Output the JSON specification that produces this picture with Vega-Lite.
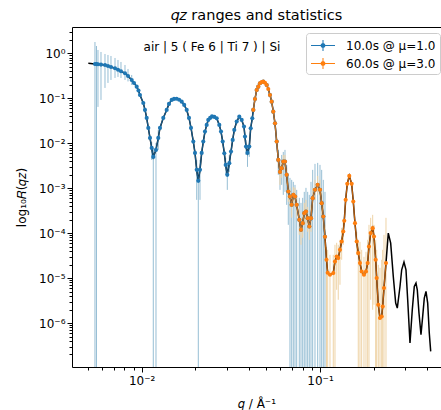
{
"$schema": "https://vega.github.io/schema/vega-lite/v6.json",
"width": 369, "height": 340,
"autosize": "none",
"padding": {"left": 72, "top": 27, "right": 0, "bottom": 43},
"background": "white",
"config": {
 "font": "DejaVu Sans",
 "view": {"stroke": null},
 "axis": {"labelFont": "DejaVu Sans", "labelFontSize": 12, "labelColor": "black", "tickColor": "black", "tickWidth": 1, "domainColor": "black", "domainWidth": 1, "grid": false, "titleFont": "DejaVu Sans", "titleFontSize": 12, "titleFontWeight": "normal", "titleColor": "black", "labelFlush": false, "labelOverlap": false}
},
"title": {"text": "𝑞𝑧 ranges and statistics", "fontSize": 14.5, "fontWeight": "normal", "font": "DejaVu Sans", "color": "black", "anchor": "middle", "baseline": "alphabetic", "offset": 7, "dy": 14},
"datasets": {
 "note": [{"q": 0.02479, "R": 1.38, "label": "air | 5 ( Fe 6 | Ti 7 ) | Si"}],
 "fit": [
{"q":0.00502,"R":0.6},{"q":0.00547,"R":0.578},{"q":0.005687,"R":0.5694},{"q":0.005912,"R":0.561},{"q":0.006226,"R":0.5495},{"q":0.006471,"R":0.5222},{"q":0.006726,"R":0.4961},{"q":0.007085,"R":0.4642},{"q":0.007364,"R":0.43},{"q":0.007654,"R":0.3981},{"q":0.00806,"R":0.3594},{"q":0.008381,"R":0.313},{"q":0.00879,"R":0.2551},{"q":0.009054,"R":0.2188},{"q":0.009375,"R":0.1811},{"q":0.009594,"R":0.1491},{"q":0.00978,"R":0.1184},{"q":0.01021,"R":0.07862},{"q":0.010435,"R":0.05495},{"q":0.010667,"R":0.03649},{"q":0.01089,"R":0.02188},{"q":0.011132,"R":0.01312},{"q":0.011379,"R":0.007862},{"q":0.011617,"R":0.004961},{"q":0.012028,"R":0.007097},{"q":0.01239,"R":0.01312},{"q":0.012666,"R":0.02188},{"q":0.013217,"R":0.03649},{"q":0.01381,"R":0.05495},{"q":0.014224,"R":0.0747},{"q":0.014738,"R":0.0917},{"q":0.015182,"R":0.0965},{"q":0.015716,"R":0.0975},{"q":0.016226,"R":0.0926},{"q":0.016765,"R":0.08404},{"q":0.017314,"R":0.071},{"q":0.017885,"R":0.05495},{"q":0.018423,"R":0.03649},{"q":0.018905,"R":0.02188},{"q":0.019475,"R":0.010854},{"q":0.019906,"R":0.006087},{"q":0.02035,"R":0.002551},{"q":0.020775,"R":0.001453},{"q":0.021232,"R":0.002551},{"q":0.021703,"R":0.006087},{"q":0.022157,"R":0.010854},{"q":0.022646,"R":0.01811},{"q":0.02315,"R":0.02551},{"q":0.023631,"R":0.03294},{"q":0.024215,"R":0.03649},{"q":0.024786,"R":0.0394},{"q":0.025543,"R":0.0384},{"q":0.026345,"R":0.03594},{"q":0.027245,"R":0.02551},{"q":0.027848,"R":0.01811},{"q":0.028466,"R":0.010854},{"q":0.02906,"R":0.005995},{"q":0.02959,"R":0.003294},{"q":0.03021,"R":0.001975},{"q":0.031,"R":0.003594},{"q":0.031687,"R":0.006505},{"q":0.032391,"R":0.01184},{"q":0.033063,"R":0.01975},{"q":0.034104,"R":0.0302},{"q":0.03527,"R":0.039},{"q":0.036379,"R":0.03294},{"q":0.037477,"R":0.02338},{"q":0.037962,"R":0.01402},{"q":0.038459,"R":0.008404},{"q":0.03921,"R":0.006087},{"q":0.040133,"R":0.008404},{"q":0.040862,"R":0.02154},{"q":0.041718,"R":0.03594},{"q":0.042259,"R":0.05495},{"q":0.043196,"R":0.09647},{"q":0.044157,"R":0.1529},{"q":0.045078,"R":0.1811},{"q":0.04608,"R":0.2154},{"q":0.047098,"R":0.2302},{"q":0.048084,"R":0.2338},{"q":0.049149,"R":0.2211},{"q":0.050243,"R":0.1975},{"q":0.051286,"R":0.1609},{"q":0.052433,"R":0.1184},{"q":0.053596,"R":0.08404},{"q":0.054715,"R":0.05036},{"q":0.05593,"R":0.02783},{"q":0.057171,"R":0.010854},{"q":0.058364,"R":0.004255},{"q":0.05966,"R":0.002302},{"q":0.060981,"R":0.002783},{"q":0.062257,"R":0.0039},{"q":0.063636,"R":0.0039},{"q":0.065044,"R":0.001975},{"q":0.066407,"R":0.0008404},{"q":0.067877,"R":0.0006505},{"q":0.069392,"R":0.0004255},{"q":0.070846,"R":0.0007097},{"q":0.072416,"R":0.0006505},{"q":0.074017,"R":0.0004255},{"q":0.076548,"R":0.0001975},{"q":0.078248,"R":0.0001184},{"q":0.079983,"R":0.0001668},{"q":0.081641,"R":0.0002783},{"q":0.083454,"R":0.000302},{"q":0.08531,"R":0.0002154},{"q":0.087096,"R":0.0001402},{"q":0.089029,"R":0.0002154},{"q":0.091004,"R":0.0005995},{"q":0.093749,"R":0.0009166},{"q":0.097077,"R":0.001184},{"q":0.1,"R":0.0009166},{"q":0.10222,"R":0.0004642},{"q":0.10435,"R":0.0002338},{"q":0.10666,"R":0.00008276},{"q":0.10875,"R":0.00002551},{"q":0.11045,"R":0.00001312},{"q":0.11377,"R":0.00001184},{"q":0.11872,"R":0.00001291},{"q":0.12135,"R":0.00002338},{"q":0.12404,"R":0.0000302},{"q":0.12662,"R":0.00002783},{"q":0.12944,"R":0.00004255},{"q":0.13231,"R":0.00006505},{"q":0.13508,"R":0.00010854},{"q":0.13683,"R":0.0001876},{"q":0.13932,"R":0.0005495},{"q":0.14224,"R":0.001246},{"q":0.14597,"R":0.001876},{"q":0.15057,"R":0.001246},{"q":0.15372,"R":0.0005036},{"q":0.15713,"R":0.0001668},{"q":0.16062,"R":0.00006505},{"q":0.16397,"R":0.00003594},{"q":0.16761,"R":0.00002154},{"q":0.17133,"R":0.00001402},{"q":0.17649,"R":0.00001184},{"q":0.18113,"R":0.00001402},{"q":0.18514,"R":0.00002154},{"q":0.18828,"R":0.00005036},{"q":0.19245,"R":0.0001},{"q":0.19748,"R":0.0001291},{"q":0.20082,"R":0.00008404},{"q":0.20528,"R":0.00002551},{"q":0.20797,"R":0.00001},{"q":0.21232,"R":0.000002551},{"q":0.21703,"R":0.000001291},{"q":0.22185,"R":0.000001402},{"q":0.22473,"R":0.000002338},{"q":0.22853,"R":0.000005995},{"q":0.23451,"R":0.00002154},{"q":0.24158,"R":0.0001},{"q":0.24918,"R":0.00005995},{"q":0.2577,"R":0.000010854},{"q":0.26581,"R":0.000002783},{"q":0.27136,"R":0.000002154},{"q":0.28099,"R":0.000006505},{"q":0.28722,"R":0.00001529},{"q":0.29588,"R":0.00002268},{"q":0.30363,"R":0.00001529},{"q":0.31036,"R":0.000003294},{"q":0.31972,"R":3.594e-7},{"q":0.32935,"R":0.000001975},{"q":0.33796,"R":0.000006505},{"q":0.34545,"R":0.000007745},{"q":0.3513,"R":0.000005495},{"q":0.3591,"R":0.000001668},{"q":0.3685,"R":5.495e-7},{"q":0.3767,"R":0.000001402},{"q":0.38459,"R":0.000003594},{"q":0.3931,"R":0.000005036},{"q":0.40182,"R":0.000002783},{"q":0.4102,"R":5.995e-7},{"q":0.41772,"R":2.338e-7}
 ],
 "pts": [
{"run":"10.0s @ μ=1.0","q":0.00547,"R":0.578,"lo":1e-9,"hi":1.782},
{"run":"10.0s @ μ=1.0","q":0.005578,"R":0.5754,"lo":1e-9,"hi":1.453},
{"run":"10.0s @ μ=1.0","q":0.005687,"R":0.5694,"lo":0.0641,"hi":1.184},
{"run":"10.0s @ μ=1.0","q":0.005912,"R":0.561,"lo":0.0917,"hi":1.069},
{"run":"10.0s @ μ=1.0","q":0.006226,"R":0.5495,"lo":0.1694,"hi":0.965},
{"run":"10.0s @ μ=1.0","q":0.006471,"R":0.5222,"lo":0.2188,"hi":0.917},
{"run":"10.0s @ μ=1.0","q":0.006726,"R":0.4961,"lo":0.2551,"hi":0.871},
{"run":"10.0s @ μ=1.0","q":0.007085,"R":0.4642,"lo":0.2826,"hi":0.786},
{"run":"10.0s @ μ=1.0","q":0.007364,"R":0.43,"lo":0.2974,"hi":0.71},
{"run":"10.0s @ μ=1.0","q":0.007654,"R":0.3981,"lo":0.2826,"hi":0.641},
{"run":"10.0s @ μ=1.0","q":0.00806,"R":0.3594,"lo":0.2551,"hi":0.5495},
{"run":"10.0s @ μ=1.0","q":0.008381,"R":0.313,"lo":0.2362,"hi":0.4477},
{"run":"10.0s @ μ=1.0","q":0.00879,"R":0.2551,"lo":0.1975,"hi":0.3294},
{"run":"10.0s @ μ=1.0","q":0.009054,"R":0.2188},
{"run":"10.0s @ μ=1.0","q":0.009375,"R":0.1811},
{"run":"10.0s @ μ=1.0","q":0.009594,"R":0.1491},
{"run":"10.0s @ μ=1.0","q":0.00978,"R":0.1184},
{"run":"10.0s @ μ=1.0","q":0.01021,"R":0.07862},
{"run":"10.0s @ μ=1.0","q":0.010435,"R":0.05495},
{"run":"10.0s @ μ=1.0","q":0.010667,"R":0.03649},
{"run":"10.0s @ μ=1.0","q":0.01089,"R":0.02188},
{"run":"10.0s @ μ=1.0","q":0.011132,"R":0.01312},
{"run":"10.0s @ μ=1.0","q":0.011379,"R":0.007862,"lo":0.004255,"hi":0.01069},
{"run":"10.0s @ μ=1.0","q":0.011617,"R":0.004961,"lo":1e-9,"hi":0.00786},
{"run":"10.0s @ μ=1.0","q":0.012028,"R":0.007097,"lo":1e-9,"hi":0.01016},
{"run":"10.0s @ μ=1.0","q":0.01239,"R":0.01312,"lo":0.0071,"hi":0.01975},
{"run":"10.0s @ μ=1.0","q":0.012666,"R":0.02188},
{"run":"10.0s @ μ=1.0","q":0.013217,"R":0.03649},
{"run":"10.0s @ μ=1.0","q":0.01381,"R":0.05495},
{"run":"10.0s @ μ=1.0","q":0.014224,"R":0.0747},
{"run":"10.0s @ μ=1.0","q":0.014738,"R":0.0917},
{"run":"10.0s @ μ=1.0","q":0.015182,"R":0.0965},
{"run":"10.0s @ μ=1.0","q":0.015716,"R":0.0975},
{"run":"10.0s @ μ=1.0","q":0.016226,"R":0.0926},
{"run":"10.0s @ μ=1.0","q":0.016765,"R":0.08404},
{"run":"10.0s @ μ=1.0","q":0.017314,"R":0.071},
{"run":"10.0s @ μ=1.0","q":0.017885,"R":0.05495},
{"run":"10.0s @ μ=1.0","q":0.018423,"R":0.03649},
{"run":"10.0s @ μ=1.0","q":0.018905,"R":0.02188},
{"run":"10.0s @ μ=1.0","q":0.019475,"R":0.010854},
{"run":"10.0s @ μ=1.0","q":0.019906,"R":0.006087},
{"run":"10.0s @ μ=1.0","q":0.02035,"R":0.002551,"lo":0.0005495,"hi":0.004255},
{"run":"10.0s @ μ=1.0","q":0.020775,"R":0.001453,"lo":1e-9,"hi":0.002826},
{"run":"10.0s @ μ=1.0","q":0.021232,"R":0.002551,"lo":0.0005495,"hi":0.004255},
{"run":"10.0s @ μ=1.0","q":0.021703,"R":0.006087},
{"run":"10.0s @ μ=1.0","q":0.022157,"R":0.010854},
{"run":"10.0s @ μ=1.0","q":0.022646,"R":0.01811},
{"run":"10.0s @ μ=1.0","q":0.02315,"R":0.02551},
{"run":"10.0s @ μ=1.0","q":0.023631,"R":0.03294},
{"run":"10.0s @ μ=1.0","q":0.024215,"R":0.03649},
{"run":"10.0s @ μ=1.0","q":0.024786,"R":0.0394},
{"run":"10.0s @ μ=1.0","q":0.025543,"R":0.0384},
{"run":"10.0s @ μ=1.0","q":0.026345,"R":0.03594},
{"run":"10.0s @ μ=1.0","q":0.027245,"R":0.02551},
{"run":"10.0s @ μ=1.0","q":0.027848,"R":0.01811},
{"run":"10.0s @ μ=1.0","q":0.028466,"R":0.010854},
{"run":"10.0s @ μ=1.0","q":0.02906,"R":0.005995},
{"run":"10.0s @ μ=1.0","q":0.02959,"R":0.003294,"lo":0.001975,"hi":0.004713},
{"run":"10.0s @ μ=1.0","q":0.03021,"R":0.001975,"lo":0.0009166,"hi":0.003294},
{"run":"10.0s @ μ=1.0","q":0.031,"R":0.003594,"lo":0.002302,"hi":0.005495},
{"run":"10.0s @ μ=1.0","q":0.031687,"R":0.006505},
{"run":"10.0s @ μ=1.0","q":0.032391,"R":0.01184},
{"run":"10.0s @ μ=1.0","q":0.033063,"R":0.01975},
{"run":"10.0s @ μ=1.0","q":0.034104,"R":0.0302},
{"run":"10.0s @ μ=1.0","q":0.03527,"R":0.039},
{"run":"10.0s @ μ=1.0","q":0.036379,"R":0.03294},
{"run":"10.0s @ μ=1.0","q":0.037477,"R":0.02338},
{"run":"10.0s @ μ=1.0","q":0.037962,"R":0.01402},
{"run":"10.0s @ μ=1.0","q":0.038459,"R":0.008404,"lo":0.005495,"hi":0.01184},
{"run":"10.0s @ μ=1.0","q":0.03921,"R":0.006087,"lo":0.002974,"hi":0.009166},
{"run":"10.0s @ μ=1.0","q":0.040133,"R":0.008404,"lo":0.004961,"hi":0.01184},
{"run":"10.0s @ μ=1.0","q":0.040862,"R":0.02154},
{"run":"10.0s @ μ=1.0","q":0.041718,"R":0.03594},
{"run":"10.0s @ μ=1.0","q":0.042259,"R":0.05495},
{"run":"10.0s @ μ=1.0","q":0.043196,"R":0.09647},
{"run":"10.0s @ μ=1.0","q":0.044157,"R":0.1529},
{"run":"10.0s @ μ=1.0","q":0.045078,"R":0.1811},
{"run":"10.0s @ μ=1.0","q":0.04608,"R":0.2154},
{"run":"10.0s @ μ=1.0","q":0.048084,"R":0.2338},
{"run":"10.0s @ μ=1.0","q":0.050243,"R":0.1975},
{"run":"10.0s @ μ=1.0","q":0.052433,"R":0.1184},
{"run":"10.0s @ μ=1.0","q":0.053596,"R":0.08404},
{"run":"10.0s @ μ=1.0","q":0.054715,"R":0.05036},
{"run":"10.0s @ μ=1.0","q":0.05593,"R":0.02783},
{"run":"10.0s @ μ=1.0","q":0.057171,"R":0.010854},
{"run":"10.0s @ μ=1.0","q":0.058364,"R":0.004255,"lo":0.001975,"hi":0.0071},
{"run":"10.0s @ μ=1.0","q":0.05966,"R":0.002302,"lo":0.0009166,"hi":0.004255},
{"run":"10.0s @ μ=1.0","q":0.060981,"R":0.002783,"lo":0.001184,"hi":0.005495},
{"run":"10.0s @ μ=1.0","q":0.062257,"R":0.0039,"lo":0.00071,"hi":0.0064},
{"run":"10.0s @ μ=1.0","q":0.063636,"R":0.0039,"lo":0.000828,"hi":0.0071},
{"run":"10.0s @ μ=1.0","q":0.065044,"R":0.001975,"lo":0.0004255,"hi":0.003294},
{"run":"10.0s @ μ=1.0","q":0.066407,"R":0.0008404,"lo":0.0001529,"hi":0.001975},
{"run":"10.0s @ μ=1.0","q":0.067877,"R":0.0006505,"lo":1e-9,"hi":0.001694},
{"run":"10.0s @ μ=1.0","q":0.069392,"R":0.0004255,"lo":1e-9,"hi":0.001529},
{"run":"10.0s @ μ=1.0","q":0.070846,"R":0.0007097,"lo":1e-9,"hi":0.00138},
{"run":"10.0s @ μ=1.0","q":0.072416,"R":0.0006505,"lo":1e-9,"hi":0.001184},
{"run":"10.0s @ μ=1.0","q":0.074017,"R":0.0004255,"lo":1e-9,"hi":0.0009166},
{"run":"10.0s @ μ=1.0","q":0.076548,"R":0.0001975,"lo":1e-9,"hi":0.000609},
{"run":"10.0s @ μ=1.0","q":0.078248,"R":0.0001184,"lo":1e-9,"hi":0.000471},
{"run":"10.0s @ μ=1.0","q":0.079983,"R":0.0001668,"lo":1e-9,"hi":0.000609},
{"run":"10.0s @ μ=1.0","q":0.081641,"R":0.0002783,"lo":1e-9,"hi":0.000828},
{"run":"10.0s @ μ=1.0","q":0.083454,"R":0.000302,"lo":1e-9,"hi":0.001016},
{"run":"10.0s @ μ=1.0","q":0.08531,"R":0.0002154,"lo":1e-9,"hi":0.000828},
{"run":"10.0s @ μ=1.0","q":0.087096,"R":0.0001402,"lo":1e-9,"hi":0.00071},
{"run":"10.0s @ μ=1.0","q":0.089029,"R":0.0002154,"lo":1e-9,"hi":0.00138},
{"run":"10.0s @ μ=1.0","q":0.091004,"R":0.0005995,"lo":1e-9,"hi":0.002551},
{"run":"10.0s @ μ=1.0","q":0.093749,"R":0.0009166,"lo":1e-9,"hi":0.003467},
{"run":"10.0s @ μ=1.0","q":0.097077,"R":0.001184,"lo":1e-9,"hi":0.00365},
{"run":"10.0s @ μ=1.0","q":0.1,"R":0.0009166,"lo":1e-9,"hi":0.003294},
{"run":"10.0s @ μ=1.0","q":0.10222,"R":0.0004642,"lo":1e-9,"hi":0.002551},
{"run":"10.0s @ μ=1.0","q":0.10435,"R":0.0002338,"lo":1e-9,"hi":0.001529},
{"run":"10.0s @ μ=1.0","q":0.10666,"R":0.00008276,"lo":1e-9,"hi":0.000828},
{"run":"60.0s @ μ=3.0","q":0.042259,"R":0.05495},
{"run":"60.0s @ μ=3.0","q":0.043196,"R":0.09647},
{"run":"60.0s @ μ=3.0","q":0.044157,"R":0.1529},
{"run":"60.0s @ μ=3.0","q":0.045078,"R":0.1811},
{"run":"60.0s @ μ=3.0","q":0.04608,"R":0.2154},
{"run":"60.0s @ μ=3.0","q":0.047098,"R":0.2302},
{"run":"60.0s @ μ=3.0","q":0.048084,"R":0.2338},
{"run":"60.0s @ μ=3.0","q":0.049149,"R":0.2211},
{"run":"60.0s @ μ=3.0","q":0.050243,"R":0.1975},
{"run":"60.0s @ μ=3.0","q":0.051286,"R":0.1609},
{"run":"60.0s @ μ=3.0","q":0.052433,"R":0.1184},
{"run":"60.0s @ μ=3.0","q":0.053596,"R":0.08404},
{"run":"60.0s @ μ=3.0","q":0.054715,"R":0.05036},
{"run":"60.0s @ μ=3.0","q":0.05593,"R":0.02783},
{"run":"60.0s @ μ=3.0","q":0.057171,"R":0.010854},
{"run":"60.0s @ μ=3.0","q":0.058364,"R":0.004255,"lo":0.002826,"hi":0.006087},
{"run":"60.0s @ μ=3.0","q":0.05966,"R":0.002302,"lo":0.001184,"hi":0.00365},
{"run":"60.0s @ μ=3.0","q":0.060981,"R":0.002783,"lo":0.001694,"hi":0.004255},
{"run":"60.0s @ μ=3.0","q":0.062257,"R":0.0039,"lo":0.002551,"hi":0.005495},
{"run":"60.0s @ μ=3.0","q":0.063636,"R":0.0039,"lo":0.002551,"hi":0.005495},
{"run":"60.0s @ μ=3.0","q":0.065044,"R":0.001975,"lo":0.001184,"hi":0.002826},
{"run":"60.0s @ μ=3.0","q":0.066407,"R":0.0008404,"lo":0.000496,"hi":0.001312},
{"run":"60.0s @ μ=3.0","q":0.067877,"R":0.0006505,"lo":0.000384,"hi":0.001016},
{"run":"60.0s @ μ=3.0","q":0.069392,"R":0.0004255,"lo":0.0002188,"hi":0.00071},
{"run":"60.0s @ μ=3.0","q":0.070846,"R":0.0007097,"lo":0.0004255,"hi":0.001069},
{"run":"60.0s @ μ=3.0","q":0.072416,"R":0.0006505,"lo":0.000365,"hi":0.001016},
{"run":"60.0s @ μ=3.0","q":0.074017,"R":0.0004255,"lo":0.0002188,"hi":0.00071},
{"run":"60.0s @ μ=3.0","q":0.076548,"R":0.0001975,"lo":0.0000917,"hi":0.000365},
{"run":"60.0s @ μ=3.0","q":0.078248,"R":0.0001184,"lo":0.000055,"hi":0.0002188},
{"run":"60.0s @ μ=3.0","q":0.079983,"R":0.0001668,"lo":0.0000786,"hi":0.000297},
{"run":"60.0s @ μ=3.0","q":0.081641,"R":0.0002783,"lo":0.0001453,"hi":0.000471},
{"run":"60.0s @ μ=3.0","q":0.083454,"R":0.000302,"lo":0.000161,"hi":0.00055},
{"run":"60.0s @ μ=3.0","q":0.08531,"R":0.0002154,"lo":0.000107,"hi":0.000384},
{"run":"60.0s @ μ=3.0","q":0.087096,"R":0.0001402,"lo":0.000071,"hi":0.000255},
{"run":"60.0s @ μ=3.0","q":0.089029,"R":0.0002154,"lo":0.000107,"hi":0.0004255},
{"run":"60.0s @ μ=3.0","q":0.091004,"R":0.0005995,"lo":0.000329,"hi":0.001016},
{"run":"60.0s @ μ=3.0","q":0.093749,"R":0.0009166,"lo":0.00055,"hi":0.001529},
{"run":"60.0s @ μ=3.0","q":0.097077,"R":0.001184,"lo":0.00071,"hi":0.001876},
{"run":"60.0s @ μ=3.0","q":0.1,"R":0.0009166,"lo":0.00055,"hi":0.001529},
{"run":"60.0s @ μ=3.0","q":0.10222,"R":0.0004642,"lo":0.000255,"hi":0.000828},
{"run":"60.0s @ μ=3.0","q":0.10435,"R":0.0002338,"lo":0.0001184,"hi":0.0004255},
{"run":"60.0s @ μ=3.0","q":0.10666,"R":0.00008276,"lo":0.00004255,"hi":0.0001529},
{"run":"60.0s @ μ=3.0","q":0.10875,"R":0.00002551,"lo":1e-9,"hi":0.0000496},
{"run":"60.0s @ μ=3.0","q":0.11045,"R":0.00001312,"lo":1e-9,"hi":0.00004255},
{"run":"60.0s @ μ=3.0","q":0.11377,"R":0.00001184,"lo":1e-9,"hi":0.00003294},
{"run":"60.0s @ μ=3.0","q":0.11872,"R":0.00001291,"lo":1e-9,"hi":0.00003294},
{"run":"60.0s @ μ=3.0","q":0.12135,"R":0.00002338,"lo":1e-9,"hi":0.000055},
{"run":"60.0s @ μ=3.0","q":0.12404,"R":0.0000302,"lo":0.000005495,"hi":0.0000609},
{"run":"60.0s @ μ=3.0","q":0.12662,"R":0.00002783,"lo":0.000003294,"hi":0.000055},
{"run":"60.0s @ μ=3.0","q":0.12944,"R":0.00004255,"lo":0.0000071,"hi":0.000071},
{"run":"60.0s @ μ=3.0","q":0.13231,"R":0.00006505,"lo":0.00002551,"hi":0.0001312},
{"run":"60.0s @ μ=3.0","q":0.13508,"R":0.00010854,"lo":0.000055,"hi":0.0001975},
{"run":"60.0s @ μ=3.0","q":0.13683,"R":0.0001876},
{"run":"60.0s @ μ=3.0","q":0.13932,"R":0.0005495},
{"run":"60.0s @ μ=3.0","q":0.14224,"R":0.001246},
{"run":"60.0s @ μ=3.0","q":0.14597,"R":0.001876},
{"run":"60.0s @ μ=3.0","q":0.15057,"R":0.001246},
{"run":"60.0s @ μ=3.0","q":0.15372,"R":0.0005036},
{"run":"60.0s @ μ=3.0","q":0.15713,"R":0.0001668},
{"run":"60.0s @ μ=3.0","q":0.16062,"R":0.00006505,"lo":0.0000329,"hi":0.000107},
{"run":"60.0s @ μ=3.0","q":0.16397,"R":0.00003594,"lo":1e-9,"hi":0.000071},
{"run":"60.0s @ μ=3.0","q":0.16761,"R":0.00002154,"lo":1e-9,"hi":0.000064},
{"run":"60.0s @ μ=3.0","q":0.17133,"R":0.00001402,"lo":1e-9,"hi":0.00004255},
{"run":"60.0s @ μ=3.0","q":0.17649,"R":0.00001184,"lo":1e-9,"hi":0.00002974},
{"run":"60.0s @ μ=3.0","q":0.18113,"R":0.00001402,"lo":1e-9,"hi":0.0000384},
{"run":"60.0s @ μ=3.0","q":0.18514,"R":0.00002154,"lo":1e-9,"hi":0.000071},
{"run":"60.0s @ μ=3.0","q":0.18828,"R":0.00005036,"lo":1e-9,"hi":0.0001529},
{"run":"60.0s @ μ=3.0","q":0.19245,"R":0.0001,"lo":0.000003294,"hi":0.0002188},
{"run":"60.0s @ μ=3.0","q":0.19748,"R":0.0001291,"lo":0.000001975,"hi":0.000255},
{"run":"60.0s @ μ=3.0","q":0.20082,"R":0.00008404,"lo":0.000002551,"hi":0.0001529},
{"run":"60.0s @ μ=3.0","q":0.20528,"R":0.00002551,"lo":1e-9,"hi":0.000071},
{"run":"60.0s @ μ=3.0","q":0.20797,"R":0.00001,"lo":1e-9,"hi":0.00004255},
{"run":"60.0s @ μ=3.0","q":0.21232,"R":0.000002551,"lo":1e-9,"hi":0.00001975},
{"run":"60.0s @ μ=3.0","q":0.21703,"R":0.000001291,"lo":1e-9,"hi":0.00001694},
{"run":"60.0s @ μ=3.0","q":0.22185,"R":0.000001402,"lo":1e-9,"hi":0.00002551},
{"run":"60.0s @ μ=3.0","q":0.22473,"R":0.000002338,"lo":1e-9,"hi":0.00004255},
{"run":"60.0s @ μ=3.0","q":0.22853,"R":0.000005995,"lo":1e-9,"hi":0.0000917},
{"run":"60.0s @ μ=3.0","q":0.23451,"R":0.00002154,"lo":1e-9,"hi":0.0002188}
 ]
},
"layer": [
 {
  "data": {"name": "pts"},
  "transform": [{"filter": "isValid(datum.lo)"}],
  "mark": {"type": "rule", "clip": true, "strokeWidth": 1},
  "encoding": {
   "x": {"field": "q", "type": "quantitative", "scale": {"type": "log", "domain": [0.004066, 0.4772], "nice": false},
     "axis": {"orient": "bottom", "values": [0.01, 0.1], "tickSize": 5, "labelPadding": 3, "titlePadding": 12, "title": "𝑞 / Å⁻¹",
       "labelExpr": "'10' + (round(log(datum.value)/LN10) < 0 ? '⁻' : '') + ['⁰','¹','²','³','⁴','⁵','⁶','⁷','⁸','⁹'][abs(round(log(datum.value)/LN10))]"}},
   "y": {"field": "lo", "type": "quantitative", "scale": {"type": "log", "domain": [1.0525e-7, 3.842], "nice": false},
     "axis": {"orient": "left", "values": [1, 0.1, 0.01, 0.001, 0.0001, 0.00001, 0.000001], "tickSize": 5, "labelPadding": 2, "titlePadding": 10, "title": "log₁₀𝑅(𝑞𝑧)",
       "labelExpr": "'10' + (round(log(datum.value)/LN10) < 0 ? '⁻' : '') + ['⁰','¹','²','³','⁴','⁵','⁶','⁷','⁸','⁹'][abs(round(log(datum.value)/LN10))]"}},
   "y2": {"field": "hi"},
   "color": {"field": "run", "type": "nominal", "scale": {"domain": ["10.0s @ μ=1.0", "60.0s @ μ=3.0"], "range": ["#96bed4", "#eed3a6"]}, "legend": null}
  }
 },
 {
  "data": {"name": "fit"},
  "mark": {"type": "line", "color": "black", "strokeWidth": 1.5, "clip": true},
  "encoding": {
   "x": {"field": "q", "type": "quantitative", "axis": {"orient": "bottom", "values": [0.005,0.006,0.007,0.008,0.009,0.02,0.03,0.04,0.05,0.06,0.07,0.08,0.09,0.2,0.3,0.4], "labels": false, "domain": false, "tickSize": 3, "title": null}},
   "y": {"field": "R", "type": "quantitative", "axis": {"orient": "left", "values": [2e-7,3e-7,4e-7,5e-7,6e-7,7e-7,8e-7,9e-7,2e-6,3e-6,4e-6,5e-6,6e-6,7e-6,8e-6,9e-6,2e-5,3e-5,4e-5,5e-5,6e-5,7e-5,8e-5,9e-5,0.0002,0.0003,0.0004,0.0005,0.0006,0.0007,0.0008,0.0009,0.002,0.003,0.004,0.005,0.006,0.007,0.008,0.009,0.02,0.03,0.04,0.05,0.06,0.07,0.08,0.09,0.2,0.3,0.4,0.5,0.6,0.7,0.8,0.9,2,3], "labels": false, "domain": false, "tickSize": 3, "title": null}}
  }
 },
 {
  "data": {"name": "pts"},
  "mark": {"type": "line", "strokeWidth": 1.2, "opacity": 0.75, "clip": true},
  "encoding": {
   "x": {"field": "q", "type": "quantitative", "axis": null},
   "y": {"field": "R", "type": "quantitative", "axis": null},
   "color": {"field": "run", "type": "nominal", "scale": {"domain": ["10.0s @ μ=1.0", "60.0s @ μ=3.0"], "range": ["#1f77b4", "#ff7f0e"]}, "legend": null}
  }
 },
 {
  "data": {"name": "pts"},
  "mark": {"type": "circle", "size": 17, "opacity": 1, "clip": true},
  "encoding": {
   "x": {"field": "q", "type": "quantitative", "axis": null},
   "y": {"field": "R", "type": "quantitative", "axis": null},
   "color": {"field": "run", "type": "nominal", "scale": {"domain": ["10.0s @ μ=1.0", "60.0s @ μ=3.0"], "range": ["#1f77b4", "#ff7f0e"]},
     "legend": {"title": null, "orient": "none", "legendX": 234, "legendY": 6, "padding": 4, "rowPadding": 3,
       "symbolType": "M-1,-0.067H2.2V0.067H-1Z M0.533,-0.72H0.667V0.72H0.533Z M0.92,0A0.32,0.32 0 1 1 0.28,0A0.32,0.32 0 1 1 0.92,0Z",
       "symbolSize": 225, "symbolOpacity": 1, "labelOffset": 19, "labelFontSize": 12, "labelFont": "DejaVu Sans", "labelColor": "black", "labelLimit": 300,
       "fillColor": "rgba(255,255,255,0.8)", "strokeColor": "#cccccc", "cornerRadius": 3}}
  }
 },
 {
  "data": {"name": "note"},
  "mark": {"type": "text", "fontSize": 12, "font": "DejaVu Sans", "baseline": "middle", "align": "center", "color": "black"},
  "encoding": {
   "x": {"field": "q", "type": "quantitative", "axis": {"orient": "top", "domain": true, "ticks": false, "labels": false, "title": null}},
   "y": {"field": "R", "type": "quantitative", "axis": null},
   "text": {"field": "label"}
  }
 }
],
"resolve": {"scale": {"color": "independent"}, "axis": {"x": "independent", "y": "independent"}}
}
